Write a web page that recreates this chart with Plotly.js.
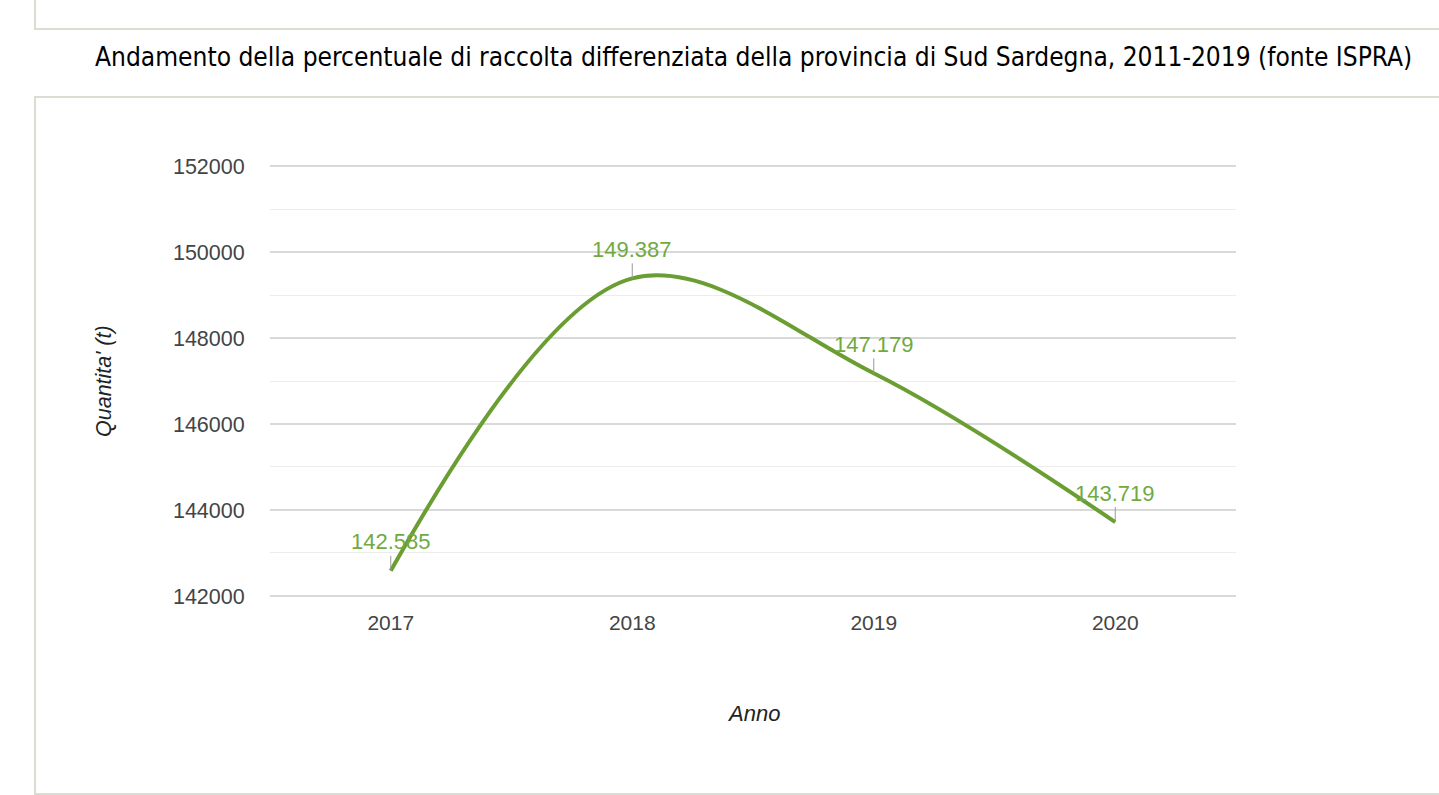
<!DOCTYPE html>
<html>
<head>
<meta charset="utf-8">
<script src="https://cdn.plot.ly/plotly-3.0.1.min.js"></script>
<style>
  html, body { margin:0; padding:0; background:#fff; width:1439px; height:795px; overflow:hidden; }
  #box1 { position:absolute; left:34px; top:-2px; width:1420px; height:30px; border-left:2px solid #dcdcd2; border-bottom:2px solid #dcdcd2; }
  #box2 { position:absolute; left:34px; top:96px; width:1420px; height:695px; border:2px solid #dcdcd2; }
  #chart { position:absolute; left:0; top:0; width:1439px; height:795px; }
</style>
</head>
<body>
<div id="box1"></div>
<div id="box2"></div>
<div id="chart"></div>
<script>
const years = ['2017', '2018', '2019', '2020'];
const quantities = [142585, 149387, 147179, 143719];
const labels = ['142.585', '149.387', '147.179', '143.719'];
const yTicks = [142000, 144000, 146000, 148000, 150000, 152000];

const green = '#6b9e32';
const trace = {
  x: years, y: quantities, type: 'scatter', mode: 'lines',
  line: { color: green, width: 4, shape: 'spline', smoothing: 1 },
  hoverinfo: 'x+y'
};

const annotations = years.map((yr, i) => ({
  x: i, y: quantities[i], xref: 'x', yref: 'y',
  text: labels[i], showarrow: true, arrowhead: 0, arrowwidth: 1, arrowcolor: '#999999',
  ax: 0, ay: -29, font: { family: 'Liberation Sans, Arial, sans-serif', size: 22, color: '#70aa40' }
}));
annotations.push({
  xref: 'paper', yref: 'paper', x: 0.5, y: 0, yshift: -115, xanchor: 'center', yanchor: 'middle',
  text: '<i>Anno</i>', showarrow: false,
  font: { family: 'Liberation Sans, Arial, sans-serif', size: 22, color: '#222' }
});
annotations.push({
  xref: 'paper', yref: 'paper', x: 0, xshift: -166, y: 0.5, xanchor: 'center', yanchor: 'middle',
  text: "<i>Quantita' (t)</i>", textangle: -90, showarrow: false,
  font: { family: 'Liberation Sans, Arial, sans-serif', size: 21.5, color: '#222' }
});
annotations.push({
  xref: 'paper', yref: 'paper', x: 0.5, xshift: 0, y: 1, yshift: 107, xanchor: 'center', yanchor: 'middle',
  text: 'Andamento della percentuale di raccolta differenziata della provincia di Sud Sardegna, 2011-2019 (fonte ISPRA)',
  showarrow: false,
  font: { family: 'DejaVu Sans Condensed, DejaVu Sans, sans-serif', size: 26.1, color: '#000' }
});

const layout = {
  width: 1439, height: 795,
  margin: { l: 270, r: 203, t: 164, b: 197 },
  paper_bgcolor: 'rgba(0,0,0,0)', plot_bgcolor: 'rgba(0,0,0,0)',
  showlegend: false,
  xaxis: {
    type: 'category', range: [-0.5, 3.5], showgrid: false, zeroline: false, showline: false,
    ticks: 'outside', ticklen: 6, tickcolor: 'rgba(0,0,0,0)',
    tickfont: { family: 'Liberation Sans, Arial, sans-serif', size: 21, color: '#444' }
  },
  yaxis: {
    range: [141953, 152047], tickvals: yTicks, ticktext: yTicks.map(String),
    showgrid: true, gridcolor: '#d9d9d9', gridwidth: 1.5, zeroline: false, showline: false,
    minor: { dtick: 1000, tick0: 0, showgrid: true, gridcolor: '#ececec', gridwidth: 1 },
    ticks: 'outside', ticklen: 20, tickcolor: 'rgba(0,0,0,0)',
    tickfont: { family: 'Liberation Sans, Arial, sans-serif', size: 21.5, color: '#444' }
  },
  annotations: annotations
};

Plotly.newPlot('chart', [trace], layout, { displayModeBar: false, staticPlot: true });
</script>
</body>
</html>
